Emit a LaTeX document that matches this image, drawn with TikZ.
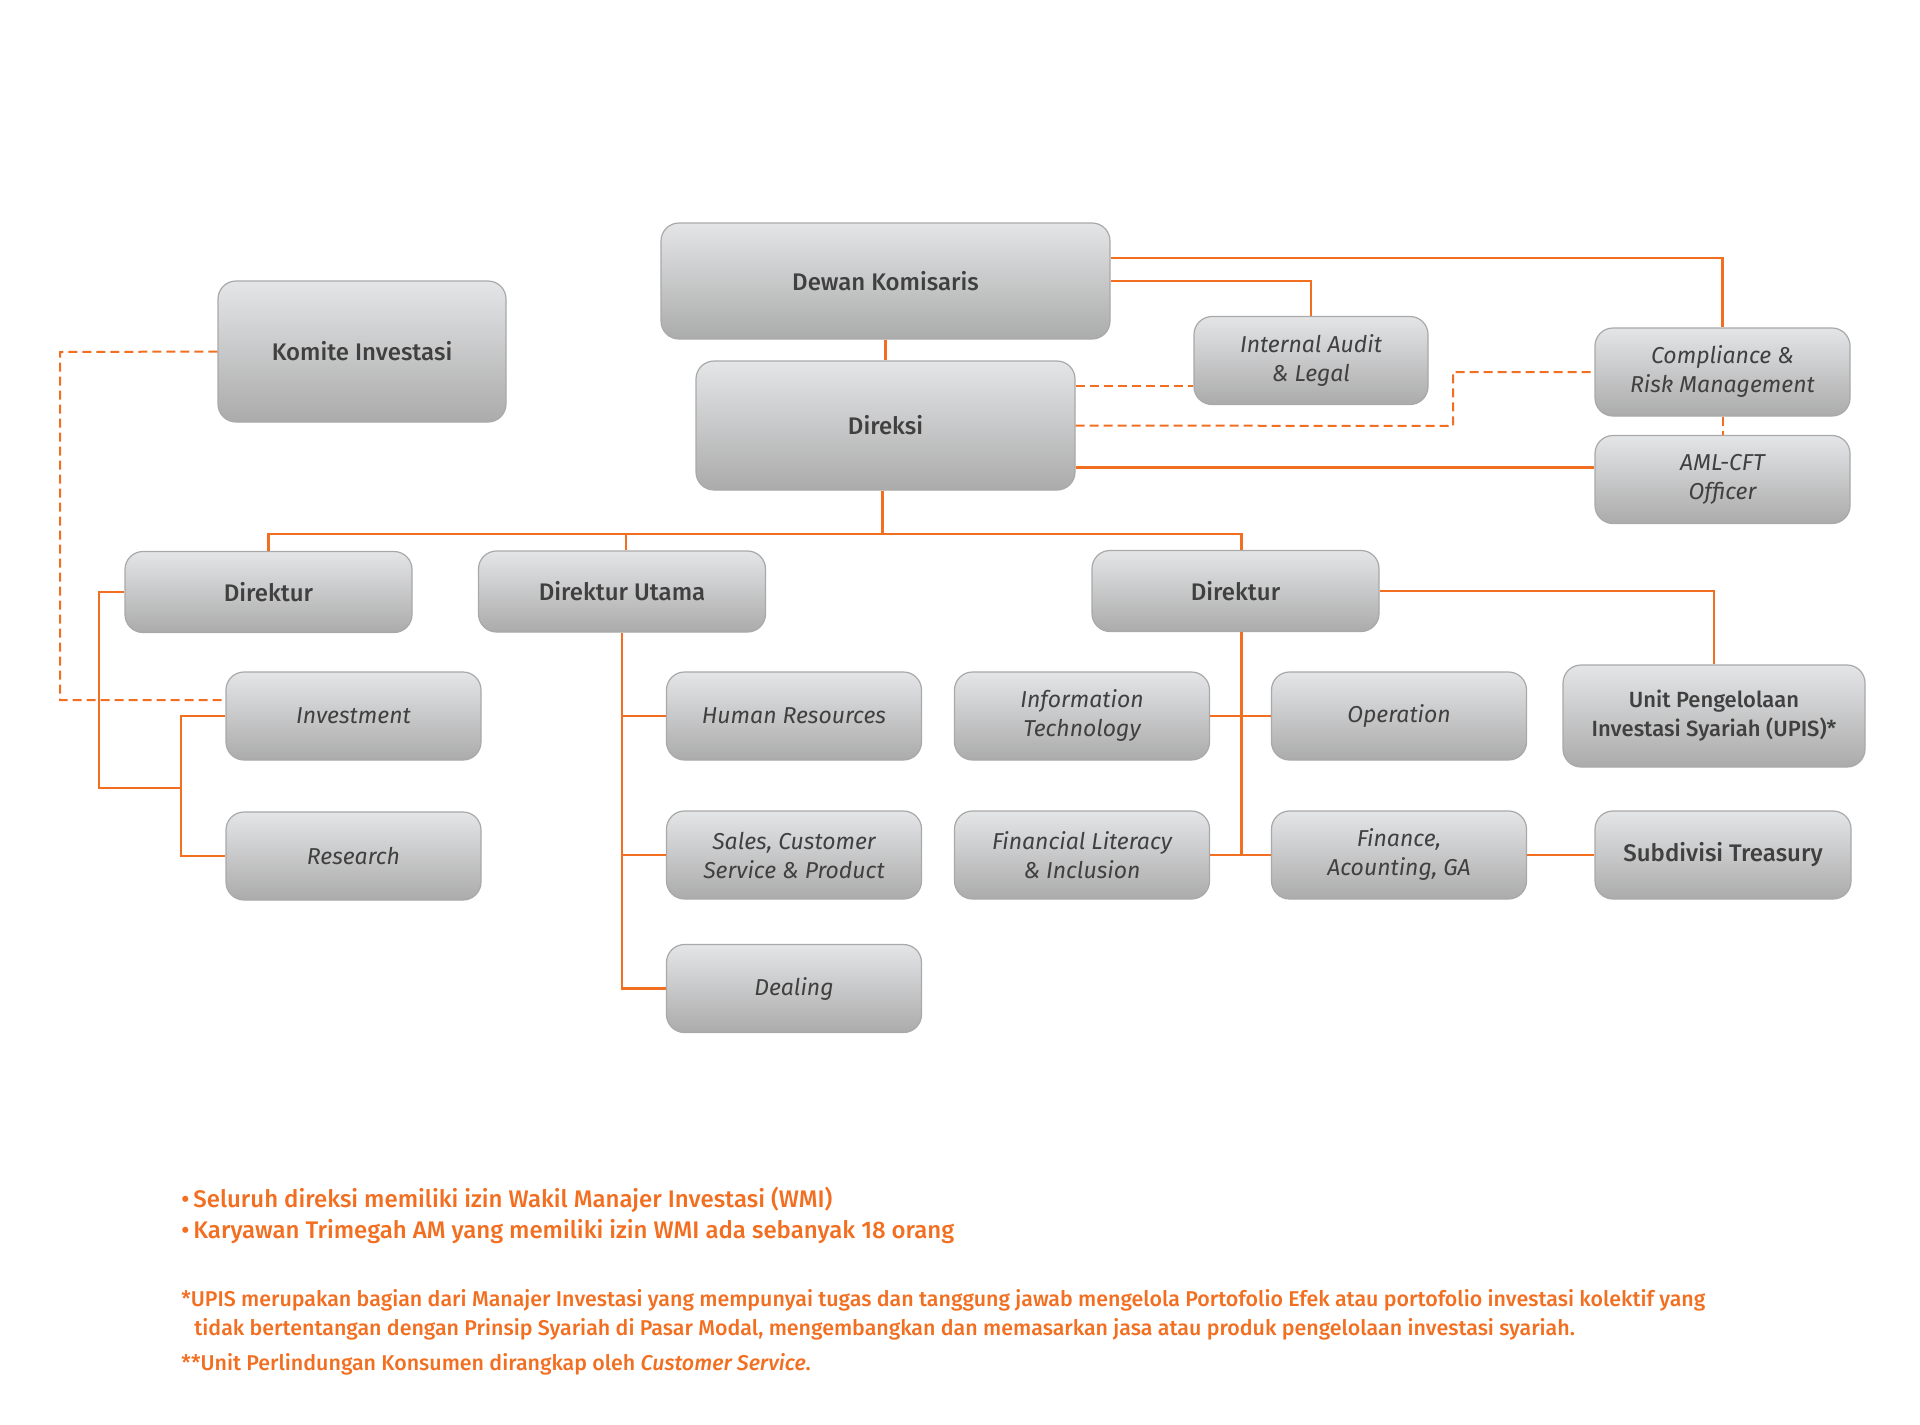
\documentclass[tikz,border=0pt]{standalone}
\usepackage{fontspec}
\setmainfont{Fira Sans}[BoldFont={Fira Sans Medium},BoldItalicFont={Fira Sans Medium Italic}]
\newfontfamily\noteFont{Fira Sans Medium}
\definecolor{lineOrange}{HTML}{F26F21}
\definecolor{boxTop}{HTML}{E4E5E7}
\definecolor{boxMid}{HTML}{D3D3D5}
\definecolor{boxBottom}{HTML}{ABABAB}
\definecolor{boxEdge}{HTML}{A9A9A9}
\definecolor{textGray}{HTML}{404040}
\usetikzlibrary{positioning, calc}

\begin{document}
\begin{tikzpicture}[x=0.5pt, y=-0.5pt,
    orgBox/.style={draw=boxEdge, line width=0.6pt, rounded corners=9pt, top color=boxTop, middle color=boxMid, bottom color=boxBottom, text=textGray, align=center, inner sep=2pt},
    headBox/.style={orgBox, font=\bfseries\fontsize{12}{14.5}\selectfont},
    unitBox/.style={orgBox, font=\itshape\fontsize{11.5}{14.5}\selectfont, minimum width=127.5pt, minimum height=44pt},
    dirBox/.style={headBox, minimum width=143.5pt, minimum height=40.5pt},
    link/.style={lineOrange, line width=1.2pt},
    dlink/.style={lineOrange, line width=1pt, dash pattern=on 4.5pt off 2.5pt},
    noteBig/.style={lineOrange, anchor=west, inner sep=0pt, font=\noteFont\fontsize{12}{14}\selectfont},
    noteSmall/.style={lineOrange, anchor=west, inner sep=0pt, font=\noteFont\fontsize{10.7}{13}\selectfont}]

    % latar dan batas gambar
    \fill[white] (0,0) rectangle (1920,1424);
    \useasboundingbox (0,0) rectangle (1920,1424);

    % Dewan, Direksi dan komite
    \node[headBox, minimum width=224.5pt, minimum height=58pt] (dewan) at (885.5,281) {Dewan Komisaris};
    \node[headBox, minimum width=189.5pt, minimum height=64.5pt] (direksi) at (885.5,425.5) {Direksi};
    \node[headBox, minimum width=144pt, minimum height=70.5pt] (komite) at (362,351.5) {Komite Investasi};

    % Fungsi pengawasan di kanan atas
    \node[unitBox, minimum width=117pt] (audit) at (1311,360.5) {Internal Audit\\\& Legal};
    \node[unitBox] (compliance) at (1722.5,372) {Compliance \&\\Risk Management};
    \node[unitBox] (aml) at (1722.5,479.5) {AML-CFT\\Officer};

    % Para direktur
    \node[dirBox] (dirKiri) at (268.5,592) {Direktur};
    \node[dirBox] (dirUtama) at (622,591.5) {Direktur Utama};
    \node[dirBox] (dirKanan) at (1235.5,591) {Direktur};

    % Unit di bawah direktur
    \node[unitBox] (investment) at (353.5,716) {Investment};
    \node[unitBox] (research) at (353.5,856) {Research};
    \node[unitBox] (hr) at (794,716) {Human Resources};
    \node[unitBox] (sales) at (794,855) {Sales, Customer\\Service \& Product};
    \node[unitBox] (dealing) at (794,988.5) {Dealing};
    \node[unitBox] (it) at (1082,716) {Information\\Technology};
    \node[unitBox] (operation) at (1399,716) {Operation};
    \node[unitBox] (literacy) at (1082,855) {Financial Literacy\\\& Inclusion};
    \node[unitBox] (finance) at (1399,855) {Finance,\\Acounting, GA};
    \node[headBox, minimum width=151pt, minimum height=51pt, font=\bfseries\fontsize{11}{14.5}\selectfont] (upis) at (1714,716) {Unit Pengelolaan\\Investasi Syariah (UPIS)*};
    \node[headBox, minimum width=128pt, minimum height=44pt] (treasury) at (1723,855) {Subdivisi Treasury};

    % Garis atas
    \draw[link] (dewan) -- (direksi);
    \draw[link] ([yshift=11.5pt]dewan.east) -| (compliance);
    \draw[link] (dewan.east) -| (audit);
    \draw[dlink] ([yshift=20pt]direksi.east) -- ([yshift=20pt]direksi.east -| audit.west);
    \coordinate (kinkC) at (1453,426);
    \draw[dlink] (direksi.east) -- (kinkC) |- (compliance.west);
    \draw[dlink] (compliance) -- (aml);
    \draw[link] ([yshift=-21pt]direksi.east) -- ([yshift=-21pt]direksi.east -| aml.west);

    % Garis ke direktur
    \coordinate (bus) at (882,534);
    \draw[link] ([xshift=-1.5pt]direksi.south) -- ([xshift=-1.5pt]direksi.south |- bus);
    \draw[link] (dirKiri.north) |- (bus) -| ([xshift=3pt]dirKanan.north);
    \draw[link] ([xshift=2pt]dirUtama.north) -- ([xshift=2pt]dirUtama.north |- bus);

    % Komite ke Investment (putus-putus)
    \coordinate (railKomite) at (60,352);
    \draw[dlink] (komite.west) -- (railKomite) |- ([yshift=8pt]investment.west);

    % Direktur kiri
    \coordinate (railKiri) at (99,788);
    \coordinate (railInv) at (181,788);
    \draw[link] (dirKiri.west) -| (railKiri) -- (railInv);
    \draw[link] (investment.west) -| (railInv) |- (research.west);

    % Direktur Utama
    \draw[link] (dirUtama.south) |- (dealing.west);
    \draw[link] (dirUtama.south |- hr.west) -- (hr.west);
    \draw[link] (dirUtama.south |- sales.west) -- (sales.west);

    % Direktur kanan
    \draw[link] ([xshift=3pt]dirKanan.south) -- ([xshift=3pt]dirKanan.south |- literacy.east);
    \draw[link] (it) -- (operation);
    \draw[link] (literacy) -- (finance);
    \draw[link] (finance) -- (treasury);
    \draw[link] (dirKanan.east) -| (upis);

    % Catatan
    \node[noteBig] (noteA) at (181,1200) {\textbullet\,Seluruh direksi memiliki izin Wakil Manajer Investasi (WMI)};
    \node[noteBig] (noteB) at (181,1232) {\textbullet\,Karyawan Trimegah AM yang memiliki izin WMI ada sebanyak 18 orang};
    \node[noteSmall] (fnA) at (181,1300) {*UPIS merupakan bagian dari Manajer Investasi yang mempunyai tugas dan tanggung jawab mengelola Portofolio Efek atau portofolio investasi kolektif yang};
    \node[noteSmall] (fnB) at (194,1329) {tidak bertentangan dengan Prinsip Syariah di Pasar Modal, mengembangkan dan memasarkan jasa atau produk pengelolaan investasi syariah.};
    \node[noteSmall] (fnC) at (181,1364) {**Unit Perlindungan Konsumen dirangkap oleh {\itshape Customer Service}.};
\end{tikzpicture}
\end{document}
